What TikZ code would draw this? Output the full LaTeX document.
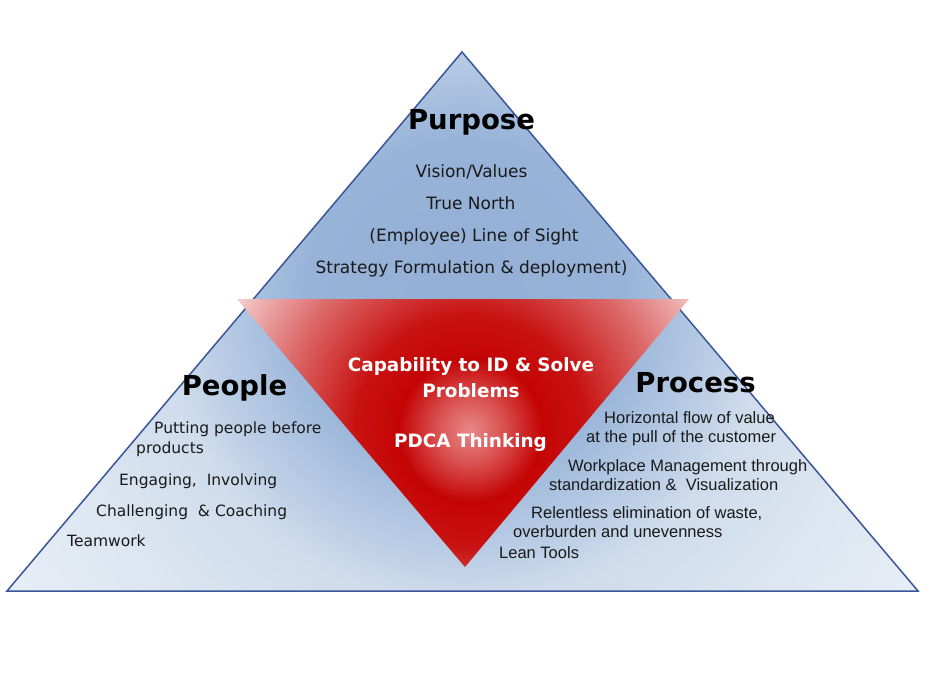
\documentclass[tikz,border=0pt]{standalone}
\usepackage{fontspec}
\setmainfont{DejaVu Sans}
\newfontfamily\arialf{Liberation Sans}
\definecolor{bA}{HTML}{93AFD5}
\definecolor{bB}{HTML}{97B3D8}
\definecolor{bC}{HTML}{BDCFE6}
\definecolor{bD}{HTML}{CFDCEC}
\definecolor{bE}{HTML}{DDE6F1}
\definecolor{bF}{HTML}{E9EFF7}
\definecolor{rA}{HTML}{E88888}
\definecolor{rB}{HTML}{DA5252}
\definecolor{rC}{HTML}{C40404}
\definecolor{rD}{HTML}{C81212}
\definecolor{rE}{HTML}{DC6868}
\definecolor{rF}{HTML}{F4CACA}
\definecolor{edge}{HTML}{3A559A}
\definecolor{txt}{HTML}{1A1A1A}
% with TikZ's \shade on a circle of radius R, a stop at s bp lies at s*R/25
\pgfdeclareradialshading{blueglow}{\pgfpoint{0bp}{0bp}}{color(0bp)=(bA); color(7.1bp)=(bB); color(11.6bp)=(bC); color(13.4bp)=(bD); color(18.75bp)=(bE); color(25bp)=(bF); color(50bp)=(bF)}
\pgfdeclareradialshading{redglow}{\pgfpoint{0bp}{0bp}}{color(0bp)=(rA); color(3bp)=(rB); color(6.5bp)=(rC); color(10.5bp)=(rD); color(17.3bp)=(rE); color(24.1bp)=(rF); color(50bp)=(rF)}
\begin{document}
\begin{tikzpicture}[x=1pt,y=-1pt,
  head/.style={font=\fontsize{27.5}{30}\selectfont\bfseries, text=black, anchor=base, inner sep=0pt},
  pitem/.style={font=\fontsize{17}{20}\selectfont, text=txt, anchor=base, inner sep=0pt},
  litem/.style={font=\fontsize{15.5}{18}\selectfont, text=txt, anchor=base west, inner sep=0pt},
  ritem/.style={font=\arialf\fontsize{16.5}{19}\selectfont, text=txt, anchor=base west, inner sep=0pt},
  wtext/.style={font=\fontsize{18.4}{21}\selectfont\bfseries, text=white, anchor=base, inner sep=0pt},
  outline/.style={draw=edge, line width=1.5pt, line join=miter}]
\useasboundingbox (0,0) rectangle (925,674);
\fill[white] (0,0) rectangle (925,674);
% big triangle
\coordinate (apex) at (462,52);
\coordinate (bl) at (7,591);
\coordinate (br) at (918,591);
\begin{scope}
  \clip (apex) -- (bl) -- (br) -- cycle;
  \shade[shading=blueglow] (465,300) circle (560pt);
\end{scope}
\draw[outline] (apex) -- (bl) -- (br) -- cycle;
% inverted red triangle
\coordinate (rtl) at (237,299);
\coordinate (rtr) at (689,299);
\coordinate (rb) at (465,567);
\begin{scope}
  \clip (rtl) -- (rtr) -- (rb) -- cycle;
  \shade[shading=redglow] (470,430) circle (275pt);
\end{scope}
% Purpose
\node[head] (purpose) at (471.5,129) {Purpose};
\node[pitem] (vision) at (471.5,177) {Vision/Values};
\node[pitem] (north) at (471,209) {True North};
\node[pitem] (sight) at (474,241) {(Employee) Line of Sight};
\node[pitem] (strategy) at (471.5,273) {Strategy Formulation \& deployment)};
% center
\node[wtext] (cap) at (471,371) {Capability to ID \& Solve};
\node[wtext] (prob) at (471,397) {Problems};
\node[wtext] (pdca) at (470.5,447) {PDCA Thinking};
% People
\node[head] (people) at (234.5,395) {People};
\node[litem] (putting) at (154,433) {Putting people before};
\node[litem] (products) at (136,453) {products};
\node[litem] (engaging) at (119,485) {Engaging,\ \ Involving};
\node[litem] (challenging) at (96,516) {Challenging\ \ \& Coaching};
\node[litem] (teamwork) at (67,546) {Teamwork};
% Process
\node[head] (process) at (695.5,392) {Process};
\node[ritem] (horiz) at (604,423) {Horizontal flow of value};
\node[ritem] (pull) at (586,442) {at the pull of the customer};
\node[ritem] (workplace) at (568,471) {Workplace Management through};
\node[ritem] (standard) at (549,490) {standardization \&\ \ Visualization};
\node[ritem] (relentless) at (531,518) {Relentless elimination of waste,};
\node[ritem] (overburden) at (513,537) {overburden and unevenness};
\node[ritem] (lean) at (499,558) {Lean Tools};
\end{tikzpicture}
\end{document}
